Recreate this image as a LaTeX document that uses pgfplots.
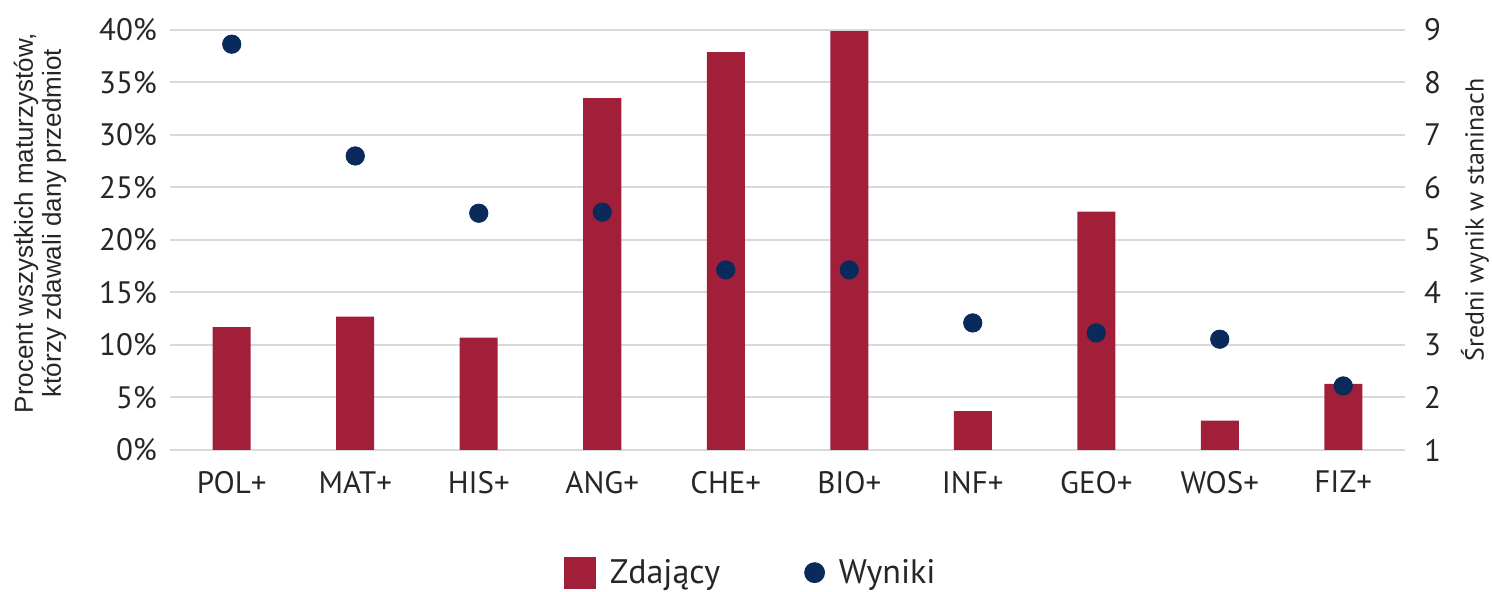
\documentclass[border=0pt]{standalone}
\usepackage{pgfplots}
\pgfplotsset{compat=1.18}
\usepackage{fontspec}
\setmainfont{PT Sans}
\newfontfamily\arialfont{Liberation Sans}
\definecolor{barc}{HTML}{A21F3A}
\definecolor{dotc}{HTML}{0B2A5C}
\definecolor{gridc}{HTML}{D9D9D9}
\definecolor{txt}{HTML}{262626}
\begin{document}
\begin{tikzpicture}
\begin{axis}[
  scale only axis, width=617.5pt, height=210pt,
  xmin=-0.5, xmax=9.5, ymin=0, ymax=40,
  /pgf/number format/assume math mode=true,
  xtick={0,...,9},
  xticklabels={POL+,MAT+,HIS+,ANG+,CHE+,BIO+,INF+,GEO+,WOS+,FIZ+},
  ytick={0,5,...,40},
  yticklabels={0\%,5\%,10\%,15\%,20\%,25\%,30\%,35\%,40\%},
  axis line style={draw=none},
  ymajorgrids, grid style={gridc, line width=1pt},
  major tick length=0pt,
  tick label style={font=\fontsize{15.5}{18}\selectfont, text=txt},
  xticklabel style={yshift=-7pt},
  yticklabel style={xshift=-3pt},
  ylabel={Procent wszystkich maturzystów,\\ którzy zdawali dany przedmiot},
  every axis y label/.style={at={(axis description cs:-0.1053,0.54)}, rotate=90, anchor=center},
  ylabel style={align=center, font=\arialfont\fontsize{13}{14}\selectfont, text=txt},
  legend style={at={(axis description cs:0.471,-0.292)}, anchor=center, draw=none, fill=none,
    legend columns=2, font=\fontsize{17}{20}\selectfont, text=txt,
    /tikz/every odd column/.append style={column sep=5pt},
    /tikz/every even column/.append style={column sep=40pt}},
]
\addplot[ybar, bar width=19pt, fill=barc, draw=none,
  legend image code/.code={\fill[barc] (0pt,-8pt) rectangle (16pt,8pt);}]
  coordinates {(0,11.7) (1,12.7) (2,10.7) (3,33.5) (4,37.9) (5,39.9) (6,3.7) (7,22.7) (8,2.8) (9,6.3)};
\addlegendentry{Zdający}
\addlegendimage{legend image code/.code={\fill[dotc] (8pt,0pt) circle (5pt);}}
\addlegendentry{Wyniki}
\end{axis}
\begin{axis}[
  scale only axis, width=617.5pt, height=210pt,
  xmin=-0.5, xmax=9.5, ymin=1, ymax=9,
  /pgf/number format/assume math mode=true,
  axis x line=none,
  axis y line*=right,
  axis line style={draw=none},
  ytick={1,...,9},
  major tick length=0pt,
  tick label style={font=\fontsize{15.5}{18}\selectfont, text=txt},
  yticklabel style={xshift=6pt},
  ylabel={Średni wynik w staninach},
  every axis y label/.style={at={(axis description cs:1.0567,0.548)}, rotate=90, anchor=center},
  ylabel style={font=\fontsize{13}{15}\selectfont, text=txt},
]
\addplot[only marks, mark=*, mark size=4.6pt, mark options={fill=dotc, draw=dotc}]
  coordinates {(0,8.73) (1,6.6) (2,5.51) (3,5.53) (4,4.43) (5,4.43) (6,3.42) (7,3.23) (8,3.11) (9,2.22)};
\end{axis}
\pgfresetboundingbox
\path[use as bounding box] (-85pt,-71pt) rectangle (661pt,225pt);
\end{tikzpicture}
\end{document}
